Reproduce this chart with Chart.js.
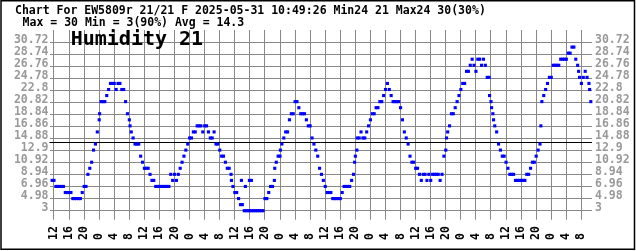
<!DOCTYPE html>
<html>
<head>
<meta charset="utf-8">
<script src="https://cdn.jsdelivr.net/npm/chart.js@4"></script>
<style>
  html, body { margin: 0; padding: 0; background: #fff; }
</style>
</head>
<body>
<canvas id="chart" width="636" height="251"></canvas>
<script>
// Header texts
const titleLine = "Chart For EW5809r 21/21 F 2025-05-31 10:49:26 Min24 21 Max24 30(30%)";
const statsLine = " Max = 30 Min = 3(90%) Avg = 14.3";
const sensorName = "Humidity 21";
const avgValue = 14.3;

// Y tick labels (both sides)
const yTicks = [3, 4.98, 6.96, 8.94, 10.92, 12.9, 14.88, 16.86, 18.84, 20.82, 22.8, 24.78, 26.76, 28.74, 30.72];

// X ticks: hours after 12:00 on the first day, one every 4 hours
const hourTicks = [0, 4, 8, 12, 16, 20, 24, 28, 32, 36, 40, 44, 48, 52, 56, 60, 64, 68,
  72, 76, 80, 84, 88, 92, 96, 100, 104, 108, 112, 116, 120, 124, 128, 132, 136, 140];
const hourLabels = ["12", "16", "20", "0", "4", "8", "12", "16", "20", "0", "4", "8",
  "12", "16", "20", "0", "4", "8", "12", "16", "20", "0", "4", "8",
  "12", "16", "20", "0", "4", "8", "12", "16", "20", "0", "4", "8"];

// Humidity readings, one every half hour, first one at 11:30
const startHour = -0.5;
const stepHours = 0.5;
const humidity = [
  8, 8, 7, 7, 7, 7, 7, 6, 6, 6,
  6, 5, 5, 5, 5, 5, 6, 7, 7, 9,
  10, 11, 13, 14, 16, 18, 21, 21, 21, 22,
  23, 24, 24, 24, 23, 24, 24, 23, 23, 21,
  19, 18, 16, 15, 14, 14, 14, 12, 11, 10,
  10, 10, 9, 8, 8, 7, 7, 7, 7, 7,
  7, 7, 7, 9, 8, 9, 8, 9, 10, 11,
  12, 13, 14, 15, 15, 16, 16, 17, 17, 17,
  16, 17, 17, 16, 15, 15, 16, 14, 14, 13,
  12, 12, 11, 10, 10, 9, 7, 6, 6, 5,
  4, 4, 3, 3, 3, 3, 3, 3, 3, 3,
  3, 3, 3, 5, 5, 6, 7, 7, 8, 11,
  12, 12, 14, 15, 16, 16, 18, 19, 19, 21,
  21, 20, 19, 19, 19, 18, 17, 17, 15, 14,
  13, 12, 10, 9, 8, 7, 6, 6, 6, 5,
  5, 5, 5, 5, 6, 7, 7, 7, 7, 8,
  9, 12, 15, 15, 16, 15, 15, 16, 17, 18,
  19, 19, 20, 20, 21, 21, 22, 23, 24, 23,
  22, 21, 21, 21, 21, 20, 18, 16, 15, 14,
  12, 11, 11, 10, 10, 9, 8, 9, 9, 8,
  9, 8, 9, 9, 9, 9, 8, 9, 12, 13,
  16, 17, 19, 19, 20, 21, 22, 23, 24, 24,
  26, 26, 27, 28, 27, 26, 28, 28, 27, 28,
  27, 25, 25, 21, 19, 17, 16, 14, 13, 12,
  12, 11, 10, 9, 9, 9, 8, 8, 8, 8,
  8, 8, 9, 9, 10, 11, 11, 12, 13, 14,
  21, 22, 23, 24, 25, 25, 27, 27, 27, 27,
  28, 28, 28, 28, 29, 29, 30, 30, 28, 27,
  25, 24, 25, 26, 25, 24, 21
];

// Readings that fall between the half-hour slots
const extraHours = [12.11, 20.19, 47.1, 49.75, 50.81, 51.87, 52.4, 58.6, 60.1, 79.8, 80.4,
  104.2, 115.62, 116.15, 116.68, 129.24, 139.26, 142.18];
const extraHumidity = [19, 17, 8, 8, 7, 8, 8, 10, 13, 11, 13,
  15, 22, 20, 18, 17, 26, 23];

const points = humidity.map((v, i) => ({ x: startHour + i * stepHours, y: v }));
extraHours.forEach((h, i) => points.push({ x: h, y: extraHumidity[i] }));

const monoFont = "'DejaVu Sans Mono', 'Liberation Mono', monospace";

const overlay = {
  id: "overlay",
  beforeDatasetsDraw(chart) {
    const { ctx, chartArea } = chart;
    const y = Math.round(chart.scales.y.getPixelForValue(avgValue)) + 0.5;
    ctx.save();
    ctx.strokeStyle = "#000";
    ctx.lineWidth = 1;
    ctx.beginPath();
    ctx.moveTo(chartArea.left, y);
    ctx.lineTo(chartArea.right, y);
    ctx.stroke();
    ctx.restore();
  },
  afterDraw(chart) {
    const { ctx } = chart;
    const xs = chart.scales.x;
    ctx.save();
    ctx.fillStyle = "#000";
    ctx.textBaseline = "alphabetic";
    ctx.textAlign = "left";
    ctx.font = "bold 11.5px " + monoFont;
    ctx.fillText(titleLine, 15, 14);
    ctx.fillText(statsLine, 15.7, 26);
    ctx.font = "bold 20px " + monoFont;
    ctx.fillText(sensorName, 70.7, 45);

    // rotated hour labels, reading upwards from a common baseline
    ctx.font = "bold 11.5px " + monoFont;
    ctx.textBaseline = "middle";
    hourTicks.forEach((h, i) => {
      const x = xs.getPixelForValue(h);
      ctx.save();
      ctx.translate(x, 240);
      ctx.rotate(-Math.PI / 2);
      ctx.fillText(hourLabels[i], 0, 0);
      ctx.restore();
    });

    // frame
    ctx.strokeStyle = "#000";
    ctx.lineWidth = 1.5;
    ctx.strokeRect(1, 0.75, 633.5, 248.5);
    ctx.restore();
  }
};

const yTickOpts = {
  color: "#999",
  font: { family: monoFont, size: 11.5, weight: "bold" },
  labelOffset: -3,
  autoSkip: false,
  callback: (v) => String(v)
};

new Chart(document.getElementById("chart"), {
  type: "scatter",
  data: {
    datasets: [{
      data: points,
      pointStyle: "rect",
      pointRadius: 2.2,
      pointBorderWidth: 0,
      backgroundColor: "#0000ff",
      showLine: false,
      clip: false
    }]
  },
  options: {
    responsive: false,
    animation: false,
    events: [],
    layout: { padding: { top: 30, left: 0, right: 0, bottom: 0 } },
    plugins: { legend: { display: false }, tooltip: { enabled: false } },
    scales: {
      x: {
        type: "linear",
        min: -1.19,
        max: 142.81,
        afterBuildTicks: (scale) => { scale.ticks = hourTicks.map(v => ({ value: v })); },
        afterFit: (scale) => { scale.height = 40.3; },
        ticks: { display: false },
        grid: { color: "#888", tickLength: 9, tickColor: "#888" },
        border: { display: false }
      },
      y: {
        position: "left",
        min: 3,
        max: 32.82,
        afterBuildTicks: (scale) => { scale.ticks = yTicks.map(v => ({ value: v })); },
        afterFit: (scale) => { scale.width = 49.5; },
        ticks: Object.assign({ padding: 1 }, yTickOpts),
        grid: { color: "#888", drawTicks: false },
        border: { display: false }
      },
      y2: {
        position: "right",
        min: 3,
        max: 32.82,
        afterBuildTicks: (scale) => { scale.ticks = yTicks.map(v => ({ value: v })); },
        afterFit: (scale) => { scale.width = 44; },
        ticks: Object.assign({ padding: 3 }, yTickOpts),
        grid: { drawOnChartArea: false, drawTicks: false },
        border: { display: false }
      }
    }
  },
  plugins: [overlay]
});
</script>
</body>
</html>
